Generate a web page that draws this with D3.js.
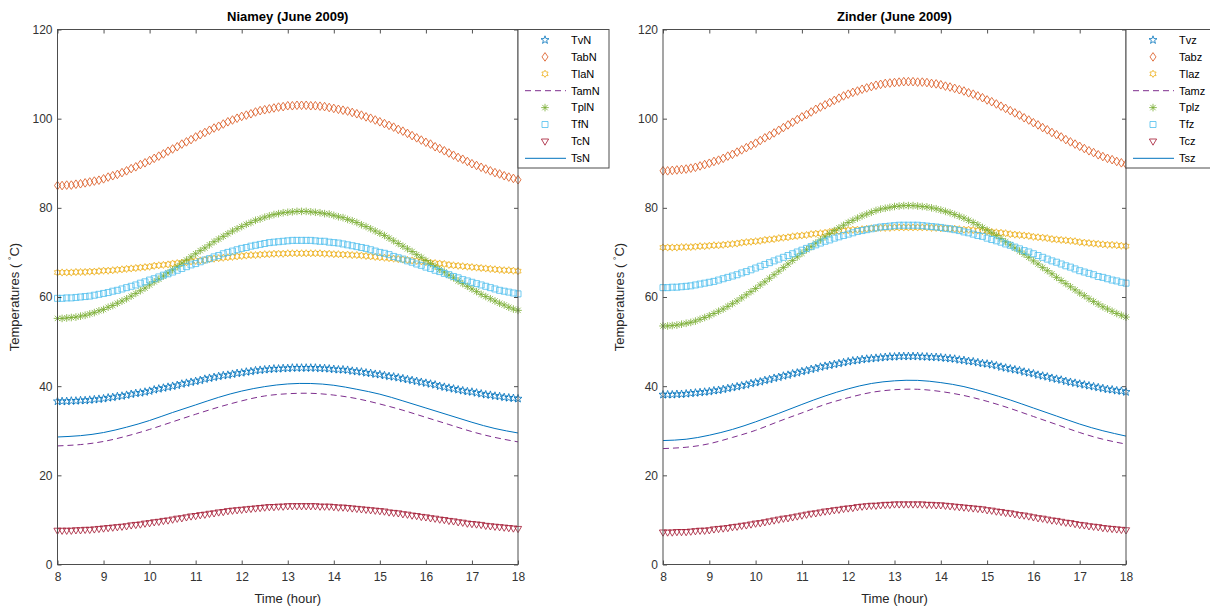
<!DOCTYPE html>
<html>
<head>
<meta charset="utf-8">
<script src="https://cdn.jsdelivr.net/npm/d3@7"></script>
<style>
  body { margin: 0; background: #fff; }
  svg { display: block; font-family: Arial, "Liberation Sans", Helvetica, sans-serif; }
</style>
</head>
<body>
<div id="chart"></div>
<script>
// time axis (hour) for marker series, and coarser one for plain lines
const hours = [8,8.1,8.2,8.3,8.4,8.5,8.6,8.7,8.8,8.9,
  9,9.1,9.2,9.3,9.4,9.5,9.6,9.7,9.8,9.9,
  10,10.1,10.2,10.3,10.4,10.5,10.6,10.7,10.8,10.9,
  11,11.1,11.2,11.3,11.4,11.5,11.6,11.7,11.8,11.9,
  12,12.1,12.2,12.3,12.4,12.5,12.6,12.7,12.8,12.9,
  13,13.1,13.2,13.3,13.4,13.5,13.6,13.7,13.8,13.9,
  14,14.1,14.2,14.3,14.4,14.5,14.6,14.7,14.8,14.9,
  15,15.1,15.2,15.3,15.4,15.5,15.6,15.7,15.8,15.9,
  16,16.1,16.2,16.3,16.4,16.5,16.6,16.7,16.8,16.9,
  17,17.1,17.2,17.3,17.4,17.5,17.6,17.7,17.8,17.9,
  18];
const lineHours = [8,8.5,9,9.5,10,10.5,11,11.5,12,12.5,13,13.5,14,14.5,15,15.5,16,16.5,17,17.5,18];

const xTicks = [8,9,10,11,12,13,14,15,16,17,18];
const yTicks = [0,20,40,60,80,100,120];

// ---- Niamey ----
const tvN = [36.6,36.6,36.6,36.7,36.7,36.8,36.8,36.9,37.0,37.1,
  37.2,37.4,37.5,37.7,37.8,38.0,38.2,38.4,38.5,38.7,
  38.9,39.2,39.4,39.6,39.8,40.0,40.2,40.5,40.7,40.9,
  41.1,41.3,41.6,41.8,42.0,42.2,42.4,42.5,42.7,42.9,
  43.0,43.2,43.3,43.5,43.6,43.7,43.8,43.9,43.9,44.0,
  44.0,44.1,44.1,44.1,44.1,44.1,44.1,44.0,44.0,43.9,
  43.8,43.7,43.7,43.6,43.4,43.3,43.2,43.0,42.9,42.7,
  42.6,42.4,42.2,42.1,41.9,41.7,41.5,41.3,41.1,40.9,
  40.7,40.5,40.3,40.0,39.8,39.6,39.4,39.2,39.0,38.8,
  38.7,38.5,38.3,38.1,38.0,37.8,37.7,37.5,37.4,37.3,
  37.2];
const tabN = [85.0,85.0,85.1,85.1,85.3,85.4,85.6,85.8,86.0,86.2,
  86.5,86.9,87.2,87.5,87.9,88.3,88.8,89.2,89.7,90.1,
  90.6,91.1,91.6,92.1,92.7,93.2,93.7,94.3,94.8,95.3,
  95.9,96.4,96.9,97.4,97.9,98.3,98.8,99.3,99.7,100.1,
  100.5,100.8,101.1,101.5,101.8,102.0,102.2,102.4,102.6,102.7,
  102.9,102.9,103.0,103.0,103.0,102.9,102.9,102.8,102.7,102.5,
  102.3,102.1,101.9,101.7,101.4,101.1,100.8,100.4,100.1,99.7,
  99.3,98.9,98.5,98.1,97.6,97.2,96.7,96.2,95.7,95.2,
  94.7,94.3,93.7,93.3,92.8,92.3,91.8,91.3,90.9,90.4,
  89.9,89.5,89.1,88.7,88.3,87.9,87.6,87.2,86.9,86.6,
  86.3];
const tlaN = [65.5,65.5,65.5,65.5,65.6,65.6,65.6,65.7,65.7,65.8,
  65.9,65.9,66.0,66.1,66.2,66.3,66.4,66.5,66.6,66.7,
  66.8,67.0,67.1,67.2,67.3,67.5,67.6,67.7,67.8,68.0,
  68.1,68.2,68.3,68.5,68.6,68.7,68.8,68.9,69.0,69.1,
  69.2,69.3,69.4,69.4,69.5,69.6,69.6,69.7,69.7,69.7,
  69.8,69.8,69.8,69.8,69.8,69.8,69.8,69.8,69.7,69.7,
  69.6,69.6,69.5,69.5,69.4,69.4,69.3,69.2,69.1,69.0,
  68.9,68.8,68.7,68.6,68.5,68.4,68.3,68.2,68.1,68.0,
  67.8,67.7,67.6,67.5,67.4,67.2,67.1,67.0,66.9,66.8,
  66.7,66.6,66.5,66.4,66.3,66.2,66.1,66.0,66.0,65.9,
  65.8];
const tamN = [26.6,26.9,27.6,28.8,30.3,32.0,33.7,35.3,36.7,37.8,38.3,38.4,38.0,37.2,36.0,34.6,33.0,31.4,29.8,28.5,27.5];
const tplN = [55.2,55.2,55.3,55.4,55.5,55.7,55.9,56.2,56.5,56.9,
  57.2,57.7,58.1,58.6,59.1,59.6,60.2,60.8,61.4,62.0,
  62.7,63.4,64.0,64.7,65.4,66.1,66.8,67.6,68.3,69.0,
  69.7,70.4,71.0,71.7,72.4,73.0,73.6,74.2,74.8,75.3,
  75.8,76.3,76.7,77.2,77.5,77.9,78.2,78.5,78.7,78.9,
  79.0,79.1,79.2,79.2,79.2,79.1,79.0,78.9,78.7,78.6,
  78.3,78.0,77.8,77.4,77.1,76.7,76.2,75.8,75.3,74.8,
  74.3,73.8,73.2,72.6,72.0,71.4,70.8,70.2,69.5,68.9,
  68.2,67.5,66.9,66.2,65.6,64.9,64.3,63.6,63.0,62.4,
  61.8,61.2,60.6,60.1,59.6,59.1,58.6,58.2,57.7,57.3,
  57.0];
const tfN = [59.7,59.7,59.8,59.8,59.9,60.0,60.1,60.2,60.4,60.6,
  60.8,61.0,61.3,61.5,61.8,62.1,62.4,62.7,63.1,63.4,
  63.8,64.1,64.5,64.9,65.2,65.6,66.0,66.4,66.8,67.2,
  67.5,67.9,68.3,68.6,69.0,69.3,69.7,70.0,70.3,70.6,
  70.9,71.1,71.4,71.6,71.8,72.0,72.2,72.3,72.4,72.5,
  72.6,72.7,72.7,72.7,72.7,72.7,72.6,72.5,72.5,72.3,
  72.2,72.1,71.9,71.7,71.5,71.3,71.1,70.9,70.6,70.3,
  70.0,69.8,69.5,69.1,68.8,68.5,68.1,67.8,67.4,67.1,
  66.7,66.4,66.0,65.7,65.3,65.0,64.6,64.3,63.9,63.6,
  63.3,63.0,62.7,62.4,62.1,61.8,61.5,61.3,61.1,60.9,
  60.7];
const tcN = [7.6,7.6,7.6,7.6,7.7,7.7,7.8,7.8,7.9,8.0,
  8.1,8.2,8.3,8.4,8.5,8.6,8.8,8.9,9.0,9.2,
  9.3,9.5,9.6,9.8,9.9,10.1,10.3,10.4,10.6,10.8,
  10.9,11.1,11.2,11.4,11.5,11.7,11.8,12.0,12.1,12.2,
  12.3,12.4,12.5,12.6,12.7,12.8,12.9,12.9,13.0,13.0,
  13.1,13.1,13.1,13.1,13.1,13.1,13.1,13.0,13.0,13.0,
  12.9,12.8,12.8,12.7,12.6,12.5,12.4,12.3,12.2,12.1,
  12.0,11.9,11.7,11.6,11.5,11.3,11.2,11.0,10.9,10.7,
  10.6,10.4,10.3,10.1,10.0,9.8,9.7,9.5,9.4,9.2,
  9.1,9.0,8.9,8.7,8.6,8.5,8.4,8.3,8.2,8.1,
  8.0];
const tsN = [28.6,28.9,29.6,30.8,32.3,34.1,35.8,37.5,38.9,39.9,40.5,40.6,40.2,39.3,38.2,36.7,35.1,33.5,31.9,30.5,29.5];

// ---- Zinder ----
const tvZ = [38.1,38.1,38.1,38.2,38.2,38.3,38.4,38.5,38.6,38.7,
  38.8,39.0,39.1,39.3,39.5,39.7,39.9,40.1,40.3,40.6,
  40.8,41.0,41.3,41.5,41.8,42.0,42.3,42.5,42.8,43.0,
  43.3,43.5,43.8,44.0,44.3,44.5,44.7,44.9,45.1,45.3,
  45.5,45.7,45.8,46.0,46.1,46.2,46.3,46.4,46.5,46.6,
  46.6,46.7,46.7,46.7,46.7,46.7,46.6,46.6,46.5,46.5,
  46.4,46.3,46.2,46.1,45.9,45.8,45.6,45.5,45.3,45.1,
  45.0,44.8,44.6,44.3,44.1,43.9,43.7,43.5,43.2,43.0,
  42.8,42.5,42.3,42.1,41.8,41.6,41.4,41.1,40.9,40.7,
  40.5,40.3,40.1,39.9,39.7,39.5,39.3,39.2,39.0,38.9,
  38.7];
const tabZ = [88.3,88.3,88.4,88.5,88.6,88.7,88.9,89.1,89.4,89.7,
  90.0,90.4,90.7,91.1,91.6,92.0,92.5,93.0,93.5,94.0,
  94.5,95.1,95.7,96.2,96.8,97.4,98.0,98.6,99.2,99.8,
  100.4,100.9,101.5,102.1,102.6,103.1,103.6,104.1,104.6,105.1,
  105.5,105.9,106.2,106.6,106.9,107.2,107.5,107.7,107.9,108.0,
  108.1,108.2,108.3,108.3,108.3,108.2,108.2,108.1,107.9,107.8,
  107.6,107.3,107.1,106.8,106.5,106.2,105.8,105.5,105.1,104.7,
  104.2,103.8,103.3,102.8,102.3,101.8,101.3,100.8,100.2,99.7,
  99.1,98.6,98.0,97.5,96.9,96.4,95.9,95.3,94.8,94.3,
  93.8,93.3,92.8,92.4,91.9,91.5,91.1,90.8,90.4,90.1,
  89.8];
const tlaZ = [71.1,71.1,71.1,71.1,71.2,71.2,71.2,71.3,71.4,71.4,
  71.5,71.6,71.6,71.7,71.8,71.9,72.0,72.2,72.3,72.4,
  72.5,72.6,72.8,72.9,73.0,73.2,73.3,73.4,73.6,73.7,
  73.8,73.9,74.1,74.2,74.3,74.4,74.6,74.7,74.8,74.9,
  75.0,75.1,75.1,75.2,75.3,75.4,75.4,75.5,75.5,75.5,
  75.6,75.6,75.6,75.6,75.6,75.6,75.6,75.6,75.5,75.5,
  75.4,75.4,75.3,75.3,75.2,75.1,75.1,75.0,74.9,74.8,
  74.7,74.6,74.5,74.4,74.3,74.1,74.0,73.9,73.8,73.7,
  73.5,73.4,73.3,73.2,73.0,72.9,72.8,72.7,72.6,72.5,
  72.3,72.2,72.1,72.0,71.9,71.8,71.7,71.7,71.6,71.5,
  71.4];
const tamZ = [26.0,26.3,27.1,28.5,30.1,32.1,34.0,35.9,37.4,38.6,39.2,39.3,38.8,37.9,36.6,35.0,33.2,31.4,29.6,28.1,27.0];
const tplZ = [53.5,53.5,53.6,53.7,53.9,54.1,54.3,54.6,55.0,55.4,
  55.8,56.3,56.8,57.3,57.9,58.5,59.1,59.8,60.5,61.2,
  61.9,62.7,63.4,64.2,65.0,65.8,66.6,67.4,68.2,69.0,
  69.8,70.6,71.3,72.1,72.8,73.5,74.2,74.9,75.5,76.1,
  76.7,77.2,77.7,78.2,78.6,79.0,79.4,79.7,79.9,80.1,
  80.3,80.4,80.5,80.5,80.5,80.4,80.3,80.2,80.0,79.8,
  79.5,79.2,78.9,78.5,78.1,77.7,77.2,76.7,76.2,75.6,
  75.0,74.4,73.8,73.1,72.4,71.7,71.0,70.3,69.6,68.9,
  68.1,67.4,66.6,65.9,65.2,64.4,63.7,63.0,62.3,61.6,
  60.9,60.3,59.6,59.0,58.4,57.8,57.3,56.8,56.3,55.9,
  55.5];
const tfZ = [62.1,62.1,62.2,62.2,62.3,62.4,62.5,62.7,62.9,63.1,
  63.3,63.5,63.8,64.1,64.4,64.7,65.0,65.4,65.7,66.1,
  66.5,66.9,67.3,67.7,68.1,68.5,68.9,69.3,69.7,70.1,
  70.5,70.9,71.3,71.7,72.1,72.5,72.8,73.2,73.5,73.8,
  74.1,74.4,74.7,74.9,75.1,75.3,75.5,75.7,75.8,75.9,
  76.0,76.1,76.1,76.1,76.1,76.1,76.0,75.9,75.8,75.7,
  75.6,75.4,75.3,75.1,74.9,74.6,74.4,74.1,73.8,73.6,
  73.2,72.9,72.6,72.3,71.9,71.6,71.2,70.8,70.4,70.1,
  69.7,69.3,68.9,68.5,68.1,67.8,67.4,67.0,66.7,66.3,
  65.9,65.6,65.3,65.0,64.6,64.4,64.1,63.8,63.6,63.3,
  63.1];
const tcZ = [7.2,7.2,7.2,7.3,7.3,7.3,7.4,7.5,7.6,7.6,
  7.7,7.9,8.0,8.1,8.2,8.4,8.5,8.7,8.8,9.0,
  9.2,9.3,9.5,9.7,9.9,10.1,10.3,10.4,10.6,10.8,
  11.0,11.2,11.4,11.5,11.7,11.9,12.0,12.2,12.3,12.5,
  12.6,12.7,12.9,13.0,13.1,13.2,13.2,13.3,13.4,13.4,
  13.5,13.5,13.5,13.5,13.5,13.5,13.5,13.4,13.4,13.3,
  13.3,13.2,13.1,13.0,12.9,12.8,12.7,12.6,12.5,12.4,
  12.2,12.1,11.9,11.8,11.6,11.5,11.3,11.1,11.0,10.8,
  10.6,10.4,10.3,10.1,9.9,9.8,9.6,9.4,9.3,9.1,
  8.9,8.8,8.6,8.5,8.4,8.2,8.1,8.0,7.9,7.8,
  7.7];
const tsZ = [27.8,28.1,29.0,30.3,32.0,33.9,35.9,37.8,39.4,40.6,41.2,41.3,40.8,39.9,38.5,36.9,35.1,33.3,31.5,30.0,28.8];

const niameyLabels = ["TvN","TabN","TlaN","TamN","TplN","TfN","TcN","TsN"];
const zinderLabels = ["Tvz","Tabz","Tlaz","Tamz","Tplz","Tfz","Tcz","Tsz"];

// MATLAB default colour order, marker per series
const styles = [
  { color: "#0072BD", marker: "pentagram" },
  { color: "#D95319", marker: "diamond" },
  { color: "#EDB120", marker: "hexagram" },
  { color: "#7E2F8E", dash: "6,4" },
  { color: "#77AC30", marker: "asterisk" },
  { color: "#4DBEEE", marker: "square" },
  { color: "#A2142F", marker: "triangle" },
  { color: "#0072BD", dash: null }
];

const svg = d3.select("#chart").append("svg")
  .attr("width", 1210)
  .attr("height", 610);

function star(n, ro, ri) {
  const pts = [];
  for (let k = 0; k < n * 2; k++) {
    const r = k % 2 === 0 ? ro : ri;
    const a = -Math.PI / 2 + k * Math.PI / n;
    pts.push([r * Math.cos(a), r * Math.sin(a)]);
  }
  return "M" + pts.map(p => p[0].toFixed(2) + "," + p[1].toFixed(2)).join("L") + "Z";
}

function markerPath(kind) {
  switch (kind) {
    case "pentagram": return star(5, 4.2, 1.7);
    case "hexagram": return star(6, 3.6, 2.1);
    case "diamond": return "M0,-4.3L3,0L0,4.3L-3,0Z";
    case "square": return "M-3,-3h6v6h-6Z";
    case "triangle": return "M-3.6,-2.4L3.6,-2.4L0,3.8Z";
    case "asterisk": return "M0,-3.8V3.8M-3.8,0H3.8M-2.7,-2.7L2.7,2.7M-2.7,2.7L2.7,-2.7";
  }
}

function drawPanel(cfg) {
  const x = d3.scaleLinear().domain([8, 18]).range([cfg.left, cfg.right]);
  const y = d3.scaleLinear().domain([0, 120]).range([564.5, 29.5]);
  const g = svg.append("g");

  // Series
  cfg.series.forEach((vals, i) => {
    const st = styles[i];
    if (st.marker) {
      g.append("g")
        .selectAll("path")
        .data(vals)
        .join("path")
        .attr("transform", (d, j) => `translate(${x(hours[j])},${y(d)})`)
        .attr("d", markerPath(st.marker))
        .attr("fill", "none")
        .attr("stroke", st.color)
        .attr("stroke-width", 0.8);
    } else {
      const line = d3.line()
        .x((d, j) => x(lineHours[j]))
        .y(d => y(d))
        .curve(d3.curveNatural);
      g.append("path")
        .datum(vals)
        .attr("d", line)
        .attr("fill", "none")
        .attr("stroke", st.color)
        .attr("stroke-width", 1)
        .attr("stroke-dasharray", st.dash);
    }
  });

  // Axes (ticks inward, on all four sides)
  const axisStyle = sel => {
    sel.select(".domain").remove();
    sel.selectAll(".tick line").attr("stroke", "#262626").attr("stroke-width", 0.8);
    sel.selectAll(".tick text").attr("fill", "#333").style("font-size", "12px");
  };
  g.append("g")
    .attr("transform", `translate(0,${y(0)})`)
    .call(d3.axisBottom(x).tickValues(xTicks).tickSize(-4).tickPadding(8))
    .call(axisStyle);
  g.append("g")
    .attr("transform", `translate(0,${y(120)})`)
    .call(d3.axisTop(x).tickValues(xTicks).tickSize(-4).tickFormat(""))
    .call(axisStyle);
  g.append("g")
    .attr("transform", `translate(${cfg.left},0)`)
    .call(d3.axisLeft(y).tickValues(yTicks).tickSize(-4).tickPadding(5))
    .call(axisStyle);
  g.append("g")
    .attr("transform", `translate(${cfg.right},0)`)
    .call(d3.axisRight(y).tickValues(yTicks).tickSize(-4).tickFormat(""))
    .call(axisStyle);

  // Box
  g.append("rect")
    .attr("x", cfg.left)
    .attr("y", y(120))
    .attr("width", cfg.right - cfg.left)
    .attr("height", y(0) - y(120))
    .attr("fill", "none")
    .attr("stroke", "#4d4d4d")
    .attr("stroke-width", 1);

  // Title
  g.append("text")
    .attr("x", (cfg.left + cfg.right) / 2)
    .attr("y", 21)
    .attr("text-anchor", "middle")
    .style("font-size", "13px")
    .style("font-weight", "bold")
    .text(cfg.title);

  // Axis labels
  g.append("text")
    .attr("x", (cfg.left + cfg.right) / 2)
    .attr("y", 603)
    .attr("text-anchor", "middle")
    .attr("fill", "#262626")
    .style("font-size", "13px")
    .text("Time (hour)");

  const yl = g.append("text")
    .attr("transform", `translate(${cfg.left - 39},${(y(0) + y(120)) / 2}) rotate(-90)`)
    .attr("text-anchor", "middle")
    .attr("fill", "#262626")
    .style("font-size", "13px");
  yl.append("tspan").text("Temperatures ( ");
  yl.append("tspan").attr("dy", -4).style("font-size", "9px").text("°");
  yl.append("tspan").attr("dy", 4).text("C)");

  // Legend
  const lg = g.append("g").attr("transform", `translate(${cfg.right},29.5)`);
  lg.append("rect")
    .attr("width", 91)
    .attr("height", 138.5)
    .attr("fill", "#fff")
    .attr("stroke", "#4d4d4d")
    .attr("stroke-width", 1);
  cfg.labels.forEach((lab, i) => {
    const st = styles[i];
    const ry = 10.5 + i * 16.9;
    if (st.marker) {
      lg.append("path")
        .attr("transform", `translate(27,${ry})`)
        .attr("d", markerPath(st.marker))
        .attr("fill", "none")
        .attr("stroke", st.color)
        .attr("stroke-width", 0.8);
    } else {
      lg.append("line")
        .attr("x1", 7).attr("x2", 48)
        .attr("y1", ry).attr("y2", ry)
        .attr("stroke", st.color)
        .attr("stroke-width", 1)
        .attr("stroke-dasharray", st.dash);
    }
    lg.append("text")
      .attr("x", 53)
      .attr("y", ry)
      .attr("dy", "0.35em")
      .style("font-size", "11px")
      .text(lab);
  });
}

drawPanel({
  left: 57.5, right: 518, title: "Niamey (June 2009)",
  series: [tvN, tabN, tlaN, tamN, tplN, tfN, tcN, tsN],
  labels: niameyLabels
});
drawPanel({
  left: 663, right: 1126, title: "Zinder (June 2009)",
  series: [tvZ, tabZ, tlaZ, tamZ, tplZ, tfZ, tcZ, tsZ],
  labels: zinderLabels
});
</script>
</body>
</html>
